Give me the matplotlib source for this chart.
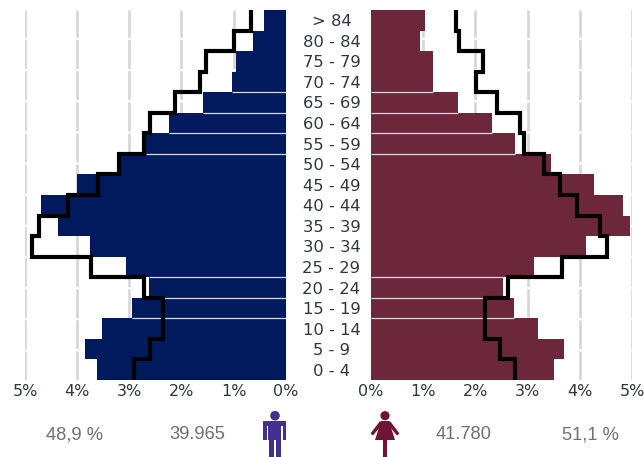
import numpy as np
import matplotlib
matplotlib.use("Agg")
import matplotlib.pyplot as plt
from matplotlib.patches import Circle, Polygon, Rectangle

W, H = 644, 457

# everything listed from 0-4 up to > 84
groups = ["0 - 4", "5 - 9", "10 - 14", "15 - 19", "20 - 24", "25 - 29", "30 - 34", "35 - 39", "40 - 44",
          "45 - 49", "50 - 54", "55 - 59", "60 - 64", "65 - 69", "70 - 74", "75 - 79", "80 - 84", "> 84"]
men = [3.62, 3.85, 3.53, 2.95, 2.63, 3.06, 3.76, 4.36, 4.70,
       4.00, 3.20, 2.67, 2.23, 1.585, 1.03, 0.955, 0.63, 0.42]
women = [3.50, 3.69, 3.20, 2.74, 2.53, 3.13, 4.12, 4.96, 4.82,
         4.28, 3.44, 2.76, 2.32, 1.67, 1.19, 1.19, 0.94, 1.03]
men_line = [2.90, 2.60, 2.35, 2.35, 2.71, 3.73, 4.87, 4.73, 4.17,
            3.60, 3.19, 2.71, 2.60, 2.115, 1.65, 1.53, 1.00, 0.67]
women_line = [2.76, 2.48, 2.19, 2.19, 2.63, 3.65, 4.52, 4.38, 3.94,
              3.62, 3.32, 2.93, 2.86, 2.42, 2.02, 2.15, 1.69, 1.62]
ticks = [0, 1, 2, 3, 4, 5]
tick_labels = ["0%", "1%", "2%", "3%", "4%", "5%"]
separators = [3, 4, 5, 11, 12, 13, 14]

fig = plt.figure(figsize=(W / 100, H / 100), dpi=100)


def make_axes(x0, x1, values, line, color, xlim):
    ax = fig.add_axes([x0 / W, 1 - 380 / H, (x1 - x0) / W, 370 / H])
    y = np.arange(len(values))
    ax.barh(y, values, height=1, align="edge", color=color, zorder=2)
    for s in separators:
        ax.hlines(s, 0, min(values[s - 1], values[s]), color="#d8d8e0", lw=0.9, zorder=3)
    ax.stairs(line, np.arange(len(line) + 1), orientation="horizontal", baseline=None,
              color="black", lw=3.0, zorder=4)
    ax.vlines(ticks[1:], 0, 18, color="#d6d6d6", lw=1.9, linestyles=(0, (11, 0.8)), zorder=1)
    ax.set_xlim(*xlim)
    ax.set_ylim(0, 18)
    ax.set_yticks([])
    ax.set_xticks(ticks)
    ax.set_xticklabels(tick_labels, fontsize=11.5, color="#2f3640")
    ax.tick_params(axis="x", length=0, pad=3)
    for side in ax.spines:
        ax.spines[side].set_visible(False)
    ax.patch.set_alpha(0)
    return ax


make_axes(25, 285.7, men, men_line, "#011a5e", (5, 0))
make_axes(371, 632, women, women_line, "#6d273b", (0, 5))

# overlay in pixel coordinates for labels and the two icons
top = fig.add_axes([0, 0, 1, 1])
top.set_xlim(0, W)
top.set_ylim(H, 0)
top.axis("off")

for i, label in enumerate(groups):
    top.text(331.5, 381.5 - (i + 0.5) * 370 / 18, label, ha="center", va="center", fontsize=11.8, color="#2f3640")

for x, txt in [(75, "48,9 %"), (197.5, "39.965"), (464, "41.780"), (590.5, "51,1 %")]:
    top.text(x, 434.5, txt, ha="center", va="center", fontsize=13.2,
             family="Liberation Sans", color="#707070")

man_c = "#44308f"
top.add_patch(Circle((275, 415.7), 4.8, color=man_c, lw=0))
top.add_patch(Rectangle((263.5, 421), 23, 5, color=man_c, lw=0))
top.add_patch(Rectangle((268.5, 421), 13, 19, color=man_c, lw=0))
top.add_patch(Rectangle((263.5, 424), 3.6, 16, color=man_c, lw=0))
top.add_patch(Rectangle((282.9, 424), 3.6, 16, color=man_c, lw=0))
top.add_patch(Rectangle((269.5, 438), 4.3, 19, color=man_c, lw=0))
top.add_patch(Rectangle((276.3, 438), 4.3, 19, color=man_c, lw=0))

woman_c = "#701435"
top.add_patch(Circle((385, 415.7), 4.6, color=woman_c, lw=0))
top.add_patch(Polygon([(381, 421), (389, 421), (395, 440), (375, 440)], color=woman_c, lw=0))
top.add_patch(Polygon([(380, 421), (382.5, 424), (373, 435.5), (370.5, 433.5)], color=woman_c, lw=0))
top.add_patch(Polygon([(390, 421), (387.5, 424), (397, 435.5), (399.5, 433.5)], color=woman_c, lw=0))
top.add_patch(Rectangle((383.4, 439), 3.4, 18, color=woman_c, lw=0))

fig.savefig("out.png", dpi=100)
